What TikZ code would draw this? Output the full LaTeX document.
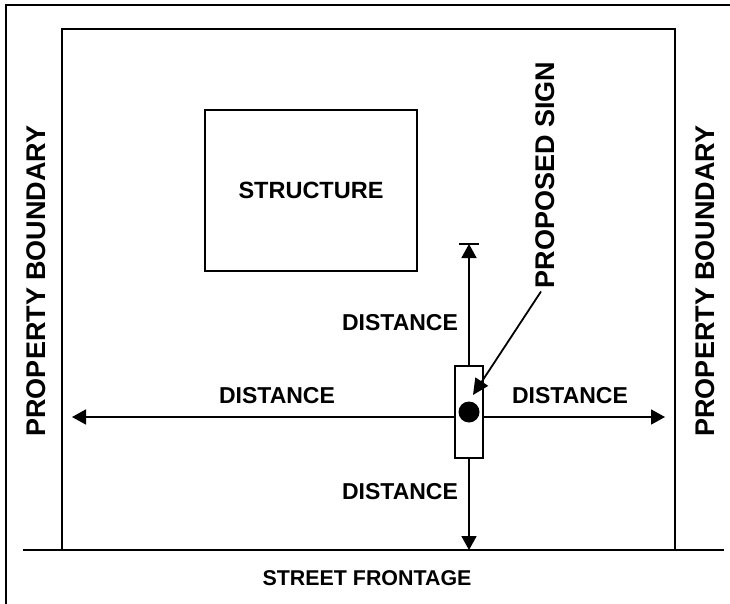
\documentclass[tikz,border=0pt]{standalone}
\usepackage{fontspec}
\setmainfont{Liberation Sans}
\usetikzlibrary{arrows.meta}
\begin{document}
\begin{tikzpicture}[x=1pt,y=-1pt,
  lbl/.style={font=\bfseries\fontsize{23}{24}\selectfont, inner sep=0pt},
  big/.style={font=\bfseries\fontsize{27}{28}\selectfont, inner sep=0pt, rotate=90},
  arr/.style={line width=1.8pt,-{Triangle[length=14pt,width=15pt]}},
  box/.style={draw, line width=1.8pt, inner sep=0pt, outer sep=0pt}]
\useasboundingbox (0,0) rectangle (730,604);
% outer frame
\coordinate (fbl) at (6,604);
\coordinate (ftl) at (6,5);
\coordinate (ftr) at (730,5);
\draw[line width=2.2pt] (fbl) -- (ftl) -- (ftr);
% lot
\node[box, minimum width=613pt, minimum height=521pt, anchor=north west] (lot) at (62,29) {};
% street line
\coordinate (sl) at (23,550);
\coordinate (sr) at (724,550);
\draw[line width=2.2pt] (sl) -- (sr);
% structure
\node[box, minimum width=212pt, minimum height=161pt, font=\bfseries\fontsize{23.5}{25}\selectfont] (struct) at (311,190.5) {STRUCTURE};
% arrow ends
\coordinate (top) at (469,244);
\coordinate (bot) at (469,550);
\coordinate (lft) at (72,417);
\coordinate (rgt) at (665,417);
\coordinate (barl) at (459,244);
\coordinate (barr) at (479,244);
% arrows
\node[box, fill=white, minimum width=28pt, minimum height=92pt] (sign) at (469,412) {};
\draw[arr] (sign.north) -- (top);
\draw[line width=1.8pt] (barl) -- (barr);
\draw[arr] (sign.south) -- (bot);
\draw[arr] (sign.west |- lft) -- (lft);
\draw[arr] (sign.east |- rgt) -- (rgt);
\node[circle, fill=black, minimum size=21pt, inner sep=0pt] (dot) at (469,412) {};
% labels
\node[lbl] (d1) at (400,323) {DISTANCE};
\node[lbl] (d2) at (277,396) {DISTANCE};
\node[lbl] (d3) at (570,396) {DISTANCE};
\node[lbl] (d4) at (400,492) {DISTANCE};
\node[font=\bfseries\fontsize{21.4}{23}\selectfont, inner sep=0pt] (street) at (367,578) {STREET FRONTAGE};
\node[big] (pbl) at (36,281) {PROPERTY BOUNDARY};
\node[big] (pbr) at (705,281) {PROPERTY BOUNDARY};
\node[big] (ps) at (545,175) {PROPOSED SIGN};
\coordinate (pt) at (473,395);
\draw[line width=1.8pt,-{Triangle[length=16pt,width=15pt]}] (ps.west) ++(-4,3) -- (pt);
\end{tikzpicture}
\end{document}
